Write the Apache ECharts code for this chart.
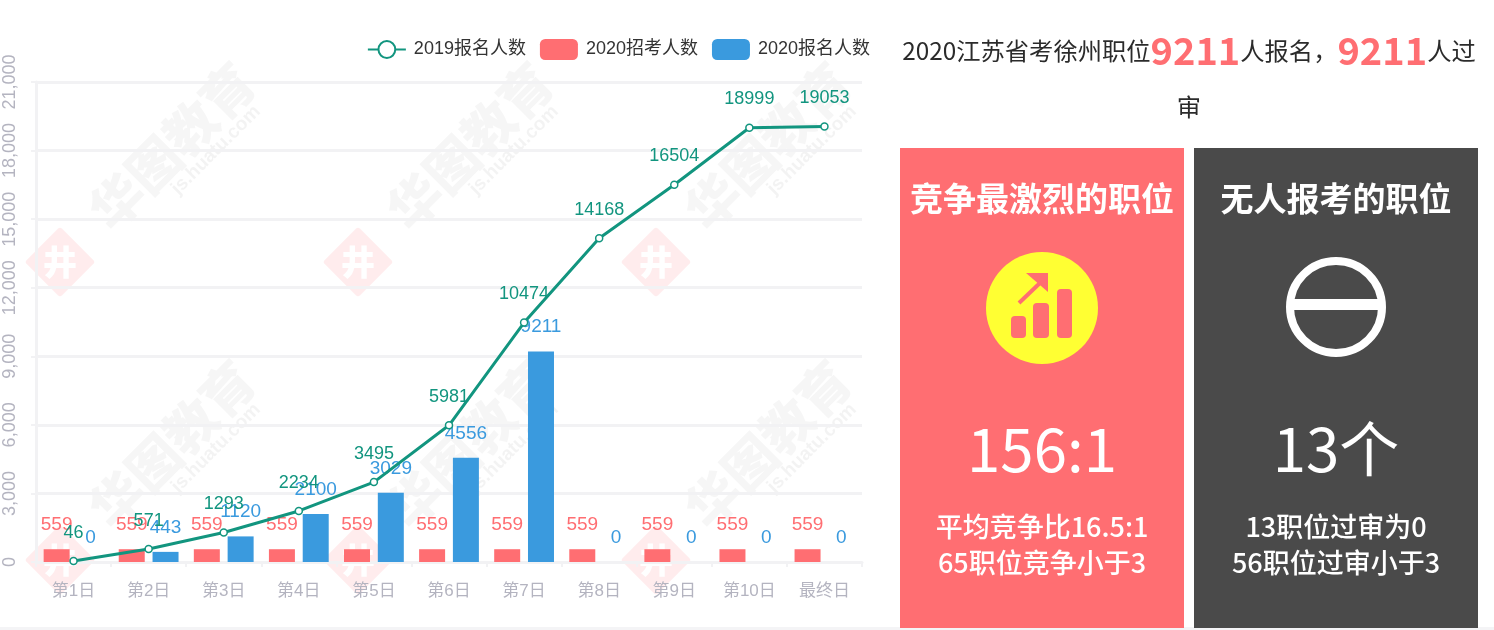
<!DOCTYPE html>
<html><head><meta charset="utf-8">
<style>html,body{margin:0;padding:0;background:#fff}#c{width:1494px;height:630px}</style>
<script src="https://cdn.jsdelivr.net/npm/echarts@6/dist/echarts.min.js"></script>
</head><body><div id="c"></div>
<script>
const categories=['第1日','第2日','第3日','第4日','第5日','第6日','第7日','第8日','第9日','第10日','最终日'];
const signup2019=[46,571,1293,2234,3495,5981,10474,14168,16504,18999,19053];
const recruit2020=[559,559,559,559,559,559,559,559,559,559,559];
const signup2020=[0,443,1120,2100,3029,4556,9211,0,0,0,0];
const seriesNames=['2019报名人数','2020招考人数','2020报名人数'];
const RED='#ff6e72',DARK='#4a4a4a',TEAL='#12957f',BLUE='#3a9ade',AX='#b4b4c0';
const FONT='"Liberation Sans","Noto Sans CJK SC",sans-serif';
const CJK='"Noto Sans CJK SC",sans-serif';

const g=[];
// page strip + watermark
g.push({type:'rect',silent:true,z:-10,shape:{x:0,y:627,width:1494,height:3},style:{fill:'#f4f4f6'}});
[[0,0],[298,0],[596,0],[0,298],[298,298],[596,298]].forEach(([dx,dy])=>{
  g.push({type:'text',silent:true,z:-5,x:172+dx,y:146+dy,rotation:Math.PI/4,
    style:{text:'华图教育',font:'900 52px '+CJK,fill:'rgba(90,90,90,0.055)',align:'center',verticalAlign:'middle'}});
  g.push({type:'text',silent:true,z:-5,x:216+dx,y:150+dy,rotation:Math.PI/4,
    style:{text:'js.huatu.com',font:'bold 19px '+FONT,fill:'rgba(90,90,90,0.07)',align:'center',verticalAlign:'middle'}});
  g.push({type:'rect',silent:true,z:-5,x:60+dx,y:262+dy,rotation:Math.PI/4,
    shape:{x:-25,y:-25,width:50,height:50,r:3},style:{fill:'rgba(255,110,114,0.13)'}});
  g.push({type:'text',silent:true,z:-4,x:60+dx,y:262+dy,
    style:{text:'井',font:'900 34px '+CJK,fill:'#fff',align:'center',verticalAlign:'middle'}});
});
// headline
g.push({type:'text',silent:true,x:1189,y:51,style:{text:'{a|2020江苏省考徐州职位}{b|9211}{a|人报名，}{b|9211}{a|人过}',
  align:'center',verticalAlign:'middle',rich:{a:{font:'24.3px '+CJK,fill:'#2b2b2b'},b:{font:'bold 38px '+CJK,fill:RED}}}});
g.push({type:'text',silent:true,x:1189,y:107,style:{text:'审',font:'24.3px '+CJK,fill:'#2b2b2b',align:'center',verticalAlign:'middle'}});
// panels
function panel(x,w,color,cx,title,big,l1,l2){
  g.push({type:'rect',silent:true,shape:{x:x,y:148,width:w,height:480},style:{fill:color}});
  const t=(s,y,font)=>g.push({type:'text',silent:true,z:3,x:cx,y:y,style:{text:s,font:font+' '+CJK,fill:'#fff',align:'center',verticalAlign:'middle'}});
  t(title,198,'bold 33px');t(big,449,'60px');t(l1,527,'500 27px');t(l2,563,'500 27px');
}
panel(900,284,RED,1042,'竞争最激烈的职位','156:1','平均竞争比16.5:1','65职位竞争小于3');
panel(1194,284,DARK,1336,'无人报考的职位','13个','13职位过审为0','56职位过审小于3');
// icons
g.push({type:'circle',silent:true,z:3,shape:{cx:1042,cy:308,r:56},style:{fill:'#ffff33'}});
[[1011,316,15,22],[1033,303,16,35],[1057,289,15,49]].forEach(b=>g.push({type:'rect',silent:true,z:4,shape:{x:b[0],y:b[1],width:b[2],height:b[3],r:4},style:{fill:RED}}));
g.push({type:'polyline',silent:true,z:4,shape:{points:[[1019,303],[1041,282]]},style:{stroke:RED,lineWidth:4,fill:null}});
g.push({type:'polygon',silent:true,z:4,shape:{points:[[1026,273],[1048,273],[1048,292]]},style:{fill:RED}});
g.push({type:'circle',silent:true,z:3,shape:{cx:1336,cy:307,r:46},style:{fill:'transparent',stroke:'#fff',lineWidth:8}});
g.push({type:'rect',silent:true,z:3,shape:{x:1290,y:299,width:92,height:11},style:{fill:'#fff'}});

const chart=echarts.init(document.getElementById('c'),null,{renderer:'canvas'});
chart.setOption({
  animation:false,backgroundColor:'#fff',textStyle:{fontFamily:FONT},
  graphic:{elements:g},
  legend:{data:seriesNames,right:619,top:34,itemWidth:38,itemHeight:21,itemGap:14,
    textStyle:{fontSize:18,color:'#333',fontFamily:FONT,padding:[0,0,0,3]}},
  grid:{left:36,right:632,top:82,bottom:68,containLabel:false},
  xAxis:{type:'category',data:categories,
    axisLine:{lineStyle:{color:'#f2f2f4',width:3}},axisTick:{show:true,length:5,lineStyle:{color:'#f2f2f4',width:2}},
    axisLabel:{color:AX,fontSize:17,margin:21,fontFamily:FONT}},
  yAxis:{type:'value',min:0,max:21000,interval:3000,
    axisLine:{show:true,lineStyle:{color:'#f2f2f4',width:3}},axisTick:{show:true,length:5,lineStyle:{color:'#f2f2f4',width:2}},
    splitLine:{lineStyle:{color:'#f2f2f4',width:3}},
    axisLabel:{color:AX,fontSize:18,rotate:90,margin:17,fontFamily:FONT,
      formatter:v=>v.toLocaleString('en-US')}},
  series:[
    {name:seriesNames[0],type:'line',data:signup2019,z:5,symbol:'circle',symbolSize:7,showSymbol:true,
     lineStyle:{color:TEAL,width:3},itemStyle:{color:'#fff',borderColor:TEAL,borderWidth:1.5},
     label:{show:true,position:'top',distance:15,color:TEAL,fontSize:18,fontFamily:FONT}},
    {name:seriesNames[1],type:'bar',data:recruit2020,barWidth:26,barGap:'30%',itemStyle:{color:RED},
     label:{show:true,position:'top',distance:15,color:RED,fontSize:19,fontFamily:FONT}},
    {name:seriesNames[2],type:'bar',data:signup2020,barWidth:26,itemStyle:{color:BLUE},
     label:{show:true,position:'top',distance:15,color:BLUE,fontSize:19,fontFamily:FONT}}
  ]
});
</script></body></html>
